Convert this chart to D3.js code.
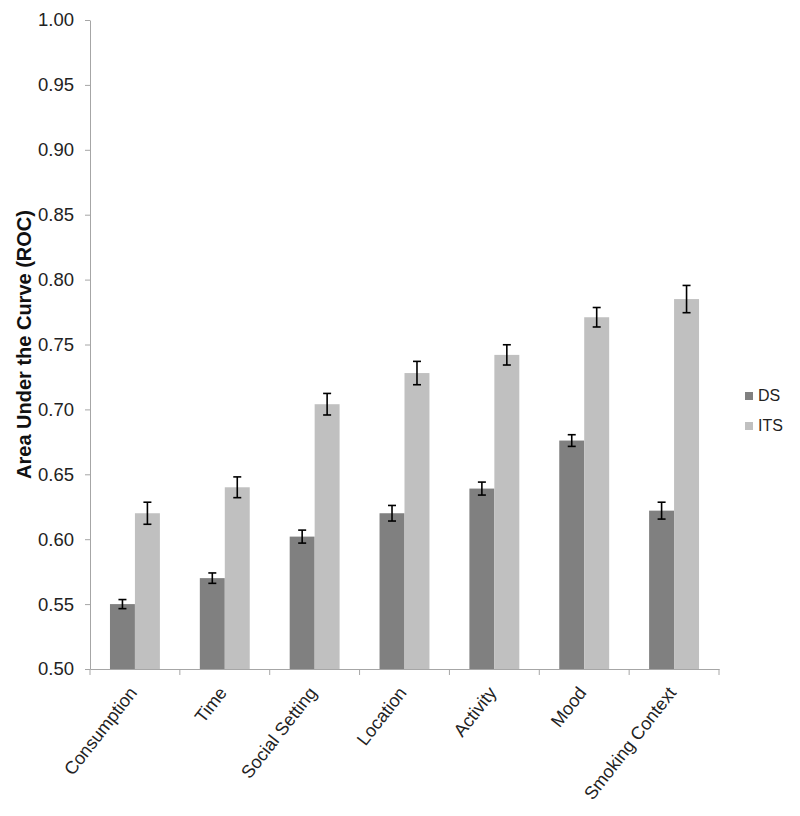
<!DOCTYPE html>
<html>
<head>
<meta charset="utf-8">
<script src="https://cdn.jsdelivr.net/npm/d3@7"></script>
<style>
  body { margin: 0; background: #fff; }
  svg { display: block; font-family: "Liberation Sans", Arial, sans-serif; }
</style>
</head>
<body>
<svg id="chart" width="800" height="816"></svg>
<script>
const categories = ["Consumption", "Time", "Social Setting", "Location", "Activity", "Mood", "Smoking Context"];
const series = ["DS", "ITS"];
const dsValues  = [0.550, 0.570, 0.602, 0.620, 0.639, 0.676, 0.622];
const dsErrors  = [0.0035, 0.004, 0.005, 0.006, 0.005, 0.0045, 0.0065];
const itsValues = [0.620, 0.640, 0.704, 0.728, 0.742, 0.771, 0.785];
const itsErrors = [0.0085, 0.008, 0.0083, 0.009, 0.0078, 0.0075, 0.0105];
const yTicks = [0.50, 0.55, 0.60, 0.65, 0.70, 0.75, 0.80, 0.85, 0.90, 0.95, 1.00];
const colors = { DS: "#808080", ITS: "#c0c0c0" };

const svg = d3.select("#chart");
const mLeft = 90, mRight = 719, mTop = 20, mBottom = 669;

const x0 = d3.scaleBand().domain(categories).range([mLeft, mRight]).paddingInner(0).paddingOuter(0);
const x1 = d3.scaleBand().domain(series).range([0, x0.bandwidth()]).paddingInner(0).paddingOuter(0.8);
const y = d3.scaleLinear().domain([0.5, 1.0]).range([mBottom, mTop]);

const data = categories.map((c, i) => ({
  cat: c,
  vals: [
    { s: "DS", v: dsValues[i], e: dsErrors[i] },
    { s: "ITS", v: itsValues[i], e: itsErrors[i] }
  ]
}));

// Bars
const g = svg.append("g");
const groups = g.selectAll("g.grp").data(data).join("g")
  .attr("class", "grp")
  .attr("transform", d => `translate(${x0(d.cat)},0)`);

groups.selectAll("rect").data(d => d.vals).join("rect")
  .attr("x", d => x1(d.s))
  .attr("width", x1.bandwidth())
  .attr("y", d => y(d.v))
  .attr("height", d => y(0.5) - y(d.v))
  .attr("fill", d => colors[d.s]);

// Error bars
const capW = 4;
const eb = groups.selectAll("g.err").data(d => d.vals).join("g").attr("class", "err");
eb.append("line")
  .attr("x1", d => x1(d.s) + x1.bandwidth() / 2)
  .attr("x2", d => x1(d.s) + x1.bandwidth() / 2)
  .attr("y1", d => y(d.v + d.e))
  .attr("y2", d => y(d.v - d.e))
  .attr("stroke", "#000").attr("stroke-width", 1.6);
[1, -1].forEach(sign => {
  eb.append("line")
    .attr("x1", d => x1(d.s) + x1.bandwidth() / 2 - capW)
    .attr("x2", d => x1(d.s) + x1.bandwidth() / 2 + capW)
    .attr("y1", d => y(d.v + sign * d.e))
    .attr("y2", d => y(d.v + sign * d.e))
    .attr("stroke", "#000").attr("stroke-width", 1.6);
});

// Y axis
const yAxis = svg.append("g")
  .attr("transform", `translate(${mLeft},0)`)
  .call(d3.axisLeft(y).tickValues(yTicks).tickFormat(d3.format(".2f")).tickSize(5).tickSizeOuter(0));
yAxis.select(".domain").attr("stroke", "#a6a6a6");
yAxis.selectAll(".tick line").attr("stroke", "#a6a6a6");
yAxis.selectAll(".tick text").attr("x", -16).attr("font-size", 18.5).attr("fill", "#222").attr("font-family", "Liberation Sans, Arial, sans-serif");

// X axis
const xAxis = svg.append("g")
  .attr("transform", `translate(0,${mBottom})`)
  .call(d3.axisBottom(x0).tickSize(0).tickSizeOuter(0).tickFormat(""));
xAxis.select(".domain").attr("stroke", "#a6a6a6");
// boundary ticks between categories
const boundaries = categories.map(c => x0(c)).concat([mRight]);
svg.append("g").selectAll("line").data(boundaries).join("line")
  .attr("x1", d => d).attr("x2", d => d)
  .attr("y1", mBottom).attr("y2", mBottom + 6)
  .attr("stroke", "#a6a6a6");

// X labels rotated
svg.append("g").selectAll("text").data(categories).join("text")
  .attr("transform", d => `translate(${x0(d) + x0.bandwidth() / 2 + 3},${mBottom + 24}) rotate(-52)`)
  .attr("text-anchor", "end")
  .attr("font-size", 18)
  .attr("fill", "#222")
  .text(d => d);

// Y title
svg.append("text")
  .attr("transform", `translate(31,${(mTop + mBottom) / 2}) rotate(-90)`)
  .attr("text-anchor", "middle")
  .attr("font-size", 20)
  .attr("font-weight", "bold")
  .attr("fill", "#111")
  .text("Area Under the Curve (ROC)");

// Legend
const legend = svg.append("g").attr("transform", "translate(745,392)");
series.forEach((s, i) => {
  const lg = legend.append("g").attr("transform", `translate(0,${i * 30})`);
  lg.append("rect").attr("width", 8).attr("height", 8).attr("fill", colors[s]);
  lg.append("text").attr("x", 13).attr("y", 8.5).attr("font-size", 16).attr("fill", "#222").text(s);
});
</script>
</body>
</html>
